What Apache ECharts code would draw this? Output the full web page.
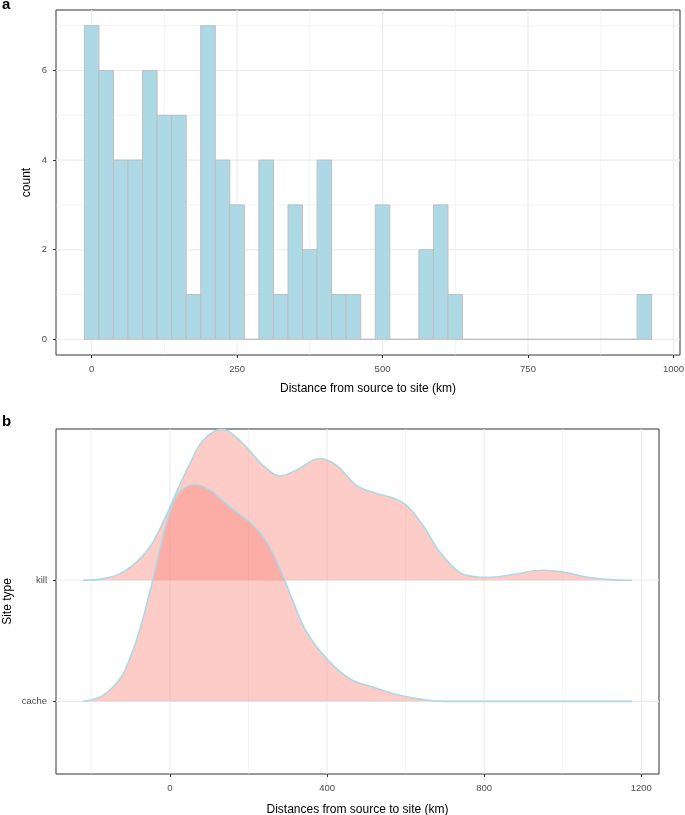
<!DOCTYPE html>
<html>
<head>
<meta charset="utf-8">
<script src="https://cdn.jsdelivr.net/npm/echarts@6/dist/echarts.min.js"></script>
<style>html,body{margin:0;padding:0;background:#fff}#c{width:685px;height:815px}</style>
</head>
<body>
<div id="c"></div>
<script>
// ---------- Panel a: histogram ----------
const binWidth = 25;
const binCenters = [0,25,50,75,100,125,150,175,200,225,250,275,300,325,350,375,400,425,450,475,500,525,550,575,600,625,650,675,700,725,750,775,800,825,850,875,900,925,950];
const binCounts  = [7,6,4,4,6,5,5,1,7,4,3,0,4,1,3,2,4,1,1,0,3,0,0,2,3,1,0,0,0,0,0,0,0,0,0,0,0,0,1];
const histXTicks = [0,250,500,750,1000];
const histXMinor = [125,375,625,875];
const histYTicks = [0,2,4,6];
const histYMinor = [1,3,5,7];

// ---------- Panel b: density ridges ----------
const siteTypes = ['cache','kill'];
const siteBaselines = [1,2];
const killX = [-221,-170,-127,-85,-51,-17,17,51,85,131,178,220,237,280,322,382,424,475,526,568,602,644,687,735,772,814,873,950,1001,1060,1119,1176];
const killH = [0,0.014,0.055,0.151,0.275,0.482,0.73,0.964,1.157,1.247,1.155,1.006,0.95,0.862,0.909,1.006,0.95,0.785,0.717,0.68,0.62,0.455,0.234,0.07,0.032,0.025,0.047,0.083,0.069,0.028,0.006,0];
const cacheX = [-221,-170,-127,-102,-76,-51,-25,0,25,64,102,153,212,246,280,314,348,399,458,517,585,653,700,800,900,1000,1100,1176];
const cacheH = [0,0.05,0.187,0.353,0.6,0.903,1.262,1.565,1.73,1.79,1.744,1.606,1.455,1.317,1.097,0.821,0.573,0.353,0.187,0.118,0.05,0.011,0,0,0,0,0,0];
const ridgeXTicks = [0,400,800,1200];
const ridgeXMinor = [-200,200,600,1000];

const FONT = '"Liberation Sans", Arial, Helvetica, sans-serif';
const GRID_COLOR = '#EBEBEB';

function vGrid(width) {
  return function (params, api) {
    const cs = params.coordSys;
    const p = api.coord([api.value(0), api.value(1)]);
    return {type: 'line', shape: {x1: p[0], y1: cs.y, x2: p[0], y2: cs.y + cs.height},
            style: {stroke: GRID_COLOR, lineWidth: width}};
  };
}
function hGrid(width) {
  return function (params, api) {
    const cs = params.coordSys;
    const p = api.coord([api.value(0), api.value(1)]);
    return {type: 'line', shape: {x1: cs.x, y1: p[1], x2: cs.x + cs.width, y2: p[1]},
            style: {stroke: GRID_COLOR, lineWidth: width}};
  };
}
function gridSeries(vals, axis, gi, width) {
  return {
    type: 'custom', xAxisIndex: gi, yAxisIndex: gi, z: 1, silent: true,
    renderItem: axis === 'x' ? vGrid(width) : hGrid(width),
    data: vals.map(v => axis === 'x' ? [v, 0] : [0, v]),
    encode: {x: 0, y: 1}
  };
}

const tickStyle = {show: true, length: 3, lineStyle: {color: '#333', width: 1}};
const labelStyle = {color: '#4D4D4D', fontSize: 9.5, fontFamily: FONT, formatter: v => String(v)};
const nameStyle = {color: '#000', fontSize: 12, fontFamily: FONT};

const chart = echarts.init(document.getElementById('c'), null, {renderer: 'canvas'});
chart.setOption({
  animation: false,
  backgroundColor: '#fff',
  title: [
    {text: 'a', left: 2, top: -3, padding: 0, textStyle: {fontSize: 15, fontWeight: 'bold', color: '#000', fontFamily: FONT}},
    {text: 'b', left: 2, top: 414, padding: 0, textStyle: {fontSize: 15, fontWeight: 'bold', color: '#000', fontFamily: FONT}}
  ],
  grid: [
    {left: 56, top: 10, width: 624, height: 345, show: true, borderColor: '#333', borderWidth: 1, backgroundColor: 'transparent', containLabel: false, outerBoundsMode: 'none'},
    {left: 56, top: 429, width: 603, height: 345, show: true, borderColor: '#333', borderWidth: 1, backgroundColor: 'transparent', containLabel: false, outerBoundsMode: 'none'}
  ],
  xAxis: [
    {gridIndex: 0, type: 'value', min: -61.25, max: 1011.25,
     axisLine: {show: false, onZero: false}, splitLine: {show: false},
     axisTick: Object.assign({customValues: histXTicks}, tickStyle),
     axisLabel: Object.assign({customValues: histXTicks, margin: 9}, labelStyle),
     name: 'Distance from source to site (km)', nameLocation: 'middle', nameGap: 28, nameMoveOverlap: false, nameTextStyle: nameStyle},
    {gridIndex: 1, type: 'value', min: -290, max: 1245,
     axisLine: {show: false, onZero: false}, splitLine: {show: false},
     axisTick: Object.assign({customValues: ridgeXTicks}, tickStyle),
     axisLabel: Object.assign({customValues: ridgeXTicks, margin: 9}, labelStyle),
     name: 'Distances from source to site (km)', nameLocation: 'middle', nameGap: 30, nameMoveOverlap: false, nameTextStyle: nameStyle}
  ],
  yAxis: [
    {gridIndex: 0, type: 'value', min: -0.35, max: 7.35,
     axisLine: {show: false, onZero: false}, splitLine: {show: false},
     axisTick: Object.assign({customValues: histYTicks}, tickStyle),
     axisLabel: Object.assign({customValues: histYTicks, margin: 9}, labelStyle),
     name: 'count', nameLocation: 'middle', nameRotate: 90, nameGap: 23, nameMoveOverlap: false, nameTextStyle: nameStyle},
    {gridIndex: 1, type: 'value', min: 0.4, max: 3.25,
     axisLine: {show: false, onZero: false}, splitLine: {show: false},
     axisTick: Object.assign({customValues: siteBaselines}, tickStyle),
     axisLabel: Object.assign({}, labelStyle, {customValues: siteBaselines, margin: 9,
        formatter: v => siteTypes[siteBaselines.indexOf(Math.round(v))]}),
     name: 'Site type', nameLocation: 'middle', nameRotate: 90, nameGap: 42, nameMoveOverlap: false, nameTextStyle: nameStyle}
  ],
  series: [
    gridSeries(histXTicks, 'x', 0, 1.1),
    gridSeries(histXMinor, 'x', 0, 0.6),
    gridSeries(histYTicks, 'y', 0, 1.1),
    gridSeries(histYMinor, 'y', 0, 0.6),
    {
      type: 'custom', name: 'count', xAxisIndex: 0, yAxisIndex: 0, z: 2,
      data: binCenters.map((c, i) => [c, binCounts[i]]),
      encode: {x: 0, y: 1},
      renderItem: function (params, api) {
        const c = api.value(0), n = api.value(1);
        const p0 = api.coord([c - binWidth / 2, n]);
        const p1 = api.coord([c + binWidth / 2, 0]);
        return {type: 'rect',
                shape: {x: p0[0], y: p0[1], width: p1[0] - p0[0], height: p1[1] - p0[1]},
                style: {fill: '#ADD8E6', stroke: '#BEBEBE', lineWidth: 1}};
      }
    },
    gridSeries(ridgeXTicks, 'x', 1, 1.1),
    gridSeries(ridgeXMinor, 'x', 1, 0.6),
    gridSeries(siteBaselines, 'y', 1, 1.1),
    {
      type: 'line', name: 'kill', xAxisIndex: 1, yAxisIndex: 1, z: 3,
      data: killX.map((x, i) => [x, siteBaselines[1] + killH[i]]),
      smooth: 0.4, showSymbol: false, symbol: 'none',
      lineStyle: {color: '#ADD8E6', width: 1.6},
      areaStyle: {color: 'rgba(250,128,114,0.4)', opacity: 1, origin: siteBaselines[1]}
    },
    {
      type: 'line', name: 'cache', xAxisIndex: 1, yAxisIndex: 1, z: 4,
      data: cacheX.map((x, i) => [x, siteBaselines[0] + cacheH[i]]),
      smooth: 0.4, showSymbol: false, symbol: 'none',
      lineStyle: {color: '#ADD8E6', width: 1.6},
      areaStyle: {color: 'rgba(250,128,114,0.4)', opacity: 1, origin: siteBaselines[0]}
    }
  ]
});
</script>
</body>
</html>
